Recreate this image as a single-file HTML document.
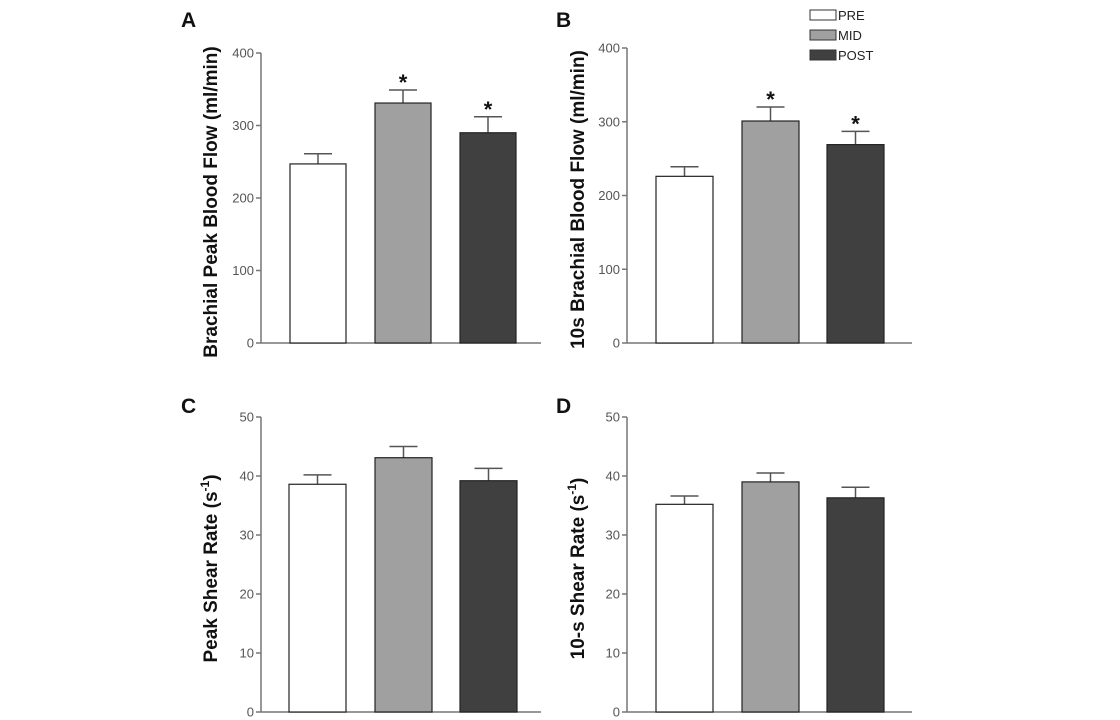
<!DOCTYPE html>
<html><head><meta charset="utf-8">
<style>
html,body{margin:0;padding:0;background:#fff;}
svg{display:block;font-family:"Liberation Sans",Arial,sans-serif;}
</style></head>
<body>
<svg id="fig" width="1120" height="720" viewBox="0 0 1120 720"></svg>
<script>
const groups = ["PRE","MID","POST"];
const fills = ["#ffffff","#a0a0a0","#404040"];
const valuesA = [247, 331, 290];
const errorsA = [14, 18, 22];
const sigA = [false, true, true];
const valuesB = [226, 301, 269];
const errorsB = [13, 19, 18];
const sigB = [false, true, true];
const valuesC = [38.6, 43.1, 39.2];
const errorsC = [1.6, 1.9, 2.1];
const sigC = [false, false, false];
const valuesD = [35.2, 39.0, 36.3];
const errorsD = [1.4, 1.5, 1.8];
const sigD = [false, false, false];
const ticksFlow = [0,100,200,300,400];
const ticksShear = [0,10,20,30,40,50];

const NS = "http://www.w3.org/2000/svg";
const svg = document.getElementById("fig");
function mk(tag, attrs, parent){
  const e = document.createElementNS(NS, tag);
  for (const k in attrs) e.setAttribute(k, attrs[k]);
  (parent||svg).appendChild(e);
  return e;
}

function panel(cfg){
  const g = mk("g", {});
  
  
  const ymax = cfg.ticks[cfg.ticks.length-1];
  const y = v => cfg.y0 - (v/ymax)*(cfg.y0 - cfg.yTop);
  const L = mk("text", {x:cfg.letterX, y:cfg.letterY, "font-size":21, "font-weight":"bold", fill:"#111"}, g);
  L.textContent = cfg.letter;
  
  
  const ya = mk("line", {x1:cfg.ax, y1:cfg.yTop, x2:cfg.ax, y2:cfg.y0, stroke:"#777", "stroke-width":1.5}, g);
  
  
  const xa = mk("line", {x1:cfg.ax, y1:cfg.y0, x2:cfg.axEnd, y2:cfg.y0, stroke:"#777", "stroke-width":1.5}, g);
  
  
  cfg.ticks.forEach(t=>{
    mk("line", {x1:cfg.ax-5, y1:y(t), x2:cfg.ax, y2:y(t), stroke:"#777", "stroke-width":1.5}, g);
    const tl = mk("text", {x:cfg.ax-7, y:y(t)+4.5, "font-size":13, "text-anchor":"end", fill:"#555"}, g);
    tl.textContent = t;
    
    
  });
  const tt = mk("text", {transform:`translate(${cfg.titleX},${(cfg.yTop+cfg.y0)/2+4}) rotate(-90)`, "font-size":19, "font-weight":"bold", "text-anchor":"middle", fill:"#111"}, g);
  tt.innerHTML = cfg.title;
  
  
  cfg.values.forEach((v,i)=>{
    const bx = cfg.barX[i];
    const top = y(v), et = y(v+cfg.errors[i]);
    const cx = bx + cfg.bw/2;
    const el = mk("line", {x1:cx, y1:top, x2:cx, y2:et, stroke:"#555", "stroke-width":1.5}, g);
    
    
    mk("line", {x1:cx-14, y1:et, x2:cx+14, y2:et, stroke:"#555", "stroke-width":1.5}, g);
    const r = mk("rect", {x:bx, y:top, width:cfg.bw, height:cfg.y0-top, fill:fills[i], stroke:"#222", "stroke-width":1.2}, g);
    
    
    if (cfg.sig[i]) {
      const s = mk("text", {x:cx, y:et, "font-size":22, "font-weight":"bold", "text-anchor":"middle", fill:"#111"}, g);
      s.textContent = "*";
      
      
    }
  });
}

panel({name:"panel-a", letter:"A", letterX:181, letterY:27, ax:261, axEnd:541, yTop:53, y0:343,
  ticks:ticksFlow, values:valuesA, errors:errorsA, sig:sigA, barX:[290,375,460], bw:56,
  titleX:217, title:"Brachial Peak Blood Flow (ml/min)"});
panel({name:"panel-b", letter:"B", letterX:556, letterY:27, ax:627, axEnd:912, yTop:48, y0:343,
  ticks:ticksFlow, values:valuesB, errors:errorsB, sig:sigB, barX:[656,742,827], bw:57,
  titleX:584, title:"10s Brachial Blood Flow (ml/min)"});
panel({name:"panel-c", letter:"C", letterX:181, letterY:413, ax:261, axEnd:541, yTop:417, y0:712,
  ticks:ticksShear, values:valuesC, errors:errorsC, sig:sigC, barX:[289,375,460], bw:57,
  titleX:217, title:'Peak Shear Rate (s<tspan dy="-8" font-size="12">-1</tspan><tspan dy="8">)</tspan>'});
panel({name:"panel-d", letter:"D", letterX:556, letterY:413, ax:627, axEnd:912, yTop:417, y0:712,
  ticks:ticksShear, values:valuesD, errors:errorsD, sig:sigD, barX:[656,742,827], bw:57,
  titleX:584, title:'10-s Shear Rate (s<tspan dy="-8" font-size="12">-1</tspan><tspan dy="8">)</tspan>'});

const lg = mk("g", {});


groups.forEach((gname,i)=>{
  const yy = 10 + i*20;
  const r = mk("rect", {x:810, y:yy, width:26, height:10, fill:fills[i], stroke:"#333", "stroke-width":1}, lg);
  
  
  const t = mk("text", {x:838, y:yy+10, "font-size":13, fill:"#222"}, lg);
  t.textContent = gname;
  
  
});
</script>
</body></html>
